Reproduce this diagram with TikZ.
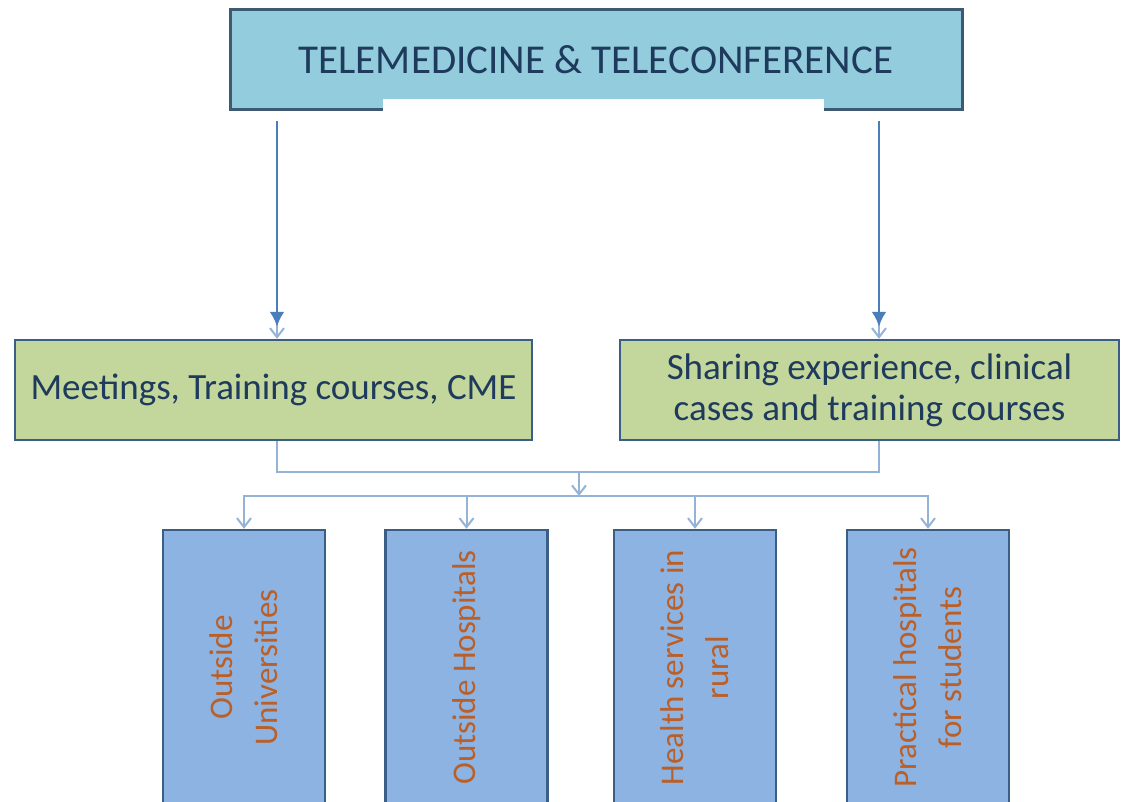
\documentclass[tikz,border=0pt]{standalone}
\usepackage{fontspec}
\setmainfont{Carlito}
\usetikzlibrary{arrows.meta}
\definecolor{topfill}{HTML}{93CDDD}
\definecolor{topedge}{HTML}{3C5A72}
\definecolor{greenfill}{HTML}{C3D69B}
\definecolor{boxedge}{HTML}{3B5E86}
\definecolor{bluefill}{HTML}{8DB3E2}
\definecolor{darktext}{HTML}{1E3A5C}
\definecolor{orangetext}{HTML}{BA5F27}
\definecolor{bigarrowcol}{HTML}{4A7EBB}
\definecolor{conncol}{HTML}{95B3D7}
\begin{document}
\begin{tikzpicture}[x=1pt,y=-1pt,
  topbox/.style={draw=topedge,line width=3pt,fill=topfill,minimum width=732pt,minimum height=100pt,inner sep=0pt,
    text=darktext,font=\fontsize{41}{48}\selectfont},
  greenbox/.style={draw=boxedge,line width=2.5pt,fill=greenfill,minimum height=100pt,inner sep=0pt,
    text=darktext,font=\fontsize{37}{41}\selectfont,align=center},
  bluebox/.style={draw=boxedge,line width=2.5pt,fill=bluefill,minimum width=162pt,minimum height=275pt,inner sep=0pt},
  vlabel/.style={rotate=90,text=orangetext,font=\fontsize{33}{45}\selectfont,align=center},
  bigarrow/.style={draw=bigarrowcol,line width=2.8pt,-{Latex[length=15pt,width=15pt]}},
  conn/.style={draw=conncol,line width=2pt},
  conntip/.style={conn,-{Straight Barb[length=9pt,width=14pt,line width=2pt]}}
]
\useasboundingbox (0,0) rectangle (1121,802);
\clip (0,0) rectangle (1121,802);
\fill[white] (0,0) rectangle (1121,802);

% top box with notch
\node[topbox] (top) at (596,60) {TELEMEDICINE \& TELECONFERENCE};
\fill[white] (383,99) rectangle (824,113);

% second level
\node[greenbox,minimum width=517pt] (g1) at (273.5,390) {Meetings, Training courses, CME};
\node[greenbox,minimum width=499pt] (g2) at (869.5,390) {\raisebox{0pt}[0pt][0pt]{}Sharing experience, clinical\\cases and training courses};

% bottom boxes
\node[bluebox] (b1) at (244,667.5) {};
\node[bluebox] (b2) at (466.5,667.5) {};
\node[bluebox] (b3) at (695,667.5) {};
\node[bluebox] (b4) at (928,667.5) {};
\node[vlabel] (t1) at (b1.center) {Outside\\Universities};
\node[vlabel] (t2) at (b2.center) {Outside Hospitals};
\node[vlabel] (t3) at (b3.center) {Health services in\\rural};
\node[vlabel] (t4) at (b4.center) {Practical hospitals\\for students};

% coordinates for connector x positions
\coordinate (L) at (277,0);
\coordinate (R) at (879,0);
\coordinate (mid) at (579,472);
\coordinate (bus) at (579,496);

% top arrows
\draw[conntip] ([yshift=-10pt]top.south -| L) -- (g1.north -| L);
\draw[conntip] ([yshift=-10pt]top.south -| R) -- (g2.north -| R);
\draw[bigarrow] ([yshift=-10pt]top.south -| L) -- ([yshift=12pt]g1.north -| L);
\draw[bigarrow] ([yshift=-10pt]top.south -| R) -- ([yshift=12pt]g2.north -| R);

% lower connectors
\draw[conn] (g1.south -| L) |- (mid) -| (g2.south -| R);
\draw[conntip] (mid) -- (bus);
\draw[conntip] (bus) -| (b1.north);
\draw[conntip] (bus) -| (b2.north);
\draw[conntip] (bus) -| (b3.north);
\draw[conntip] (bus) -| (b4.north);
\end{tikzpicture}
\end{document}
